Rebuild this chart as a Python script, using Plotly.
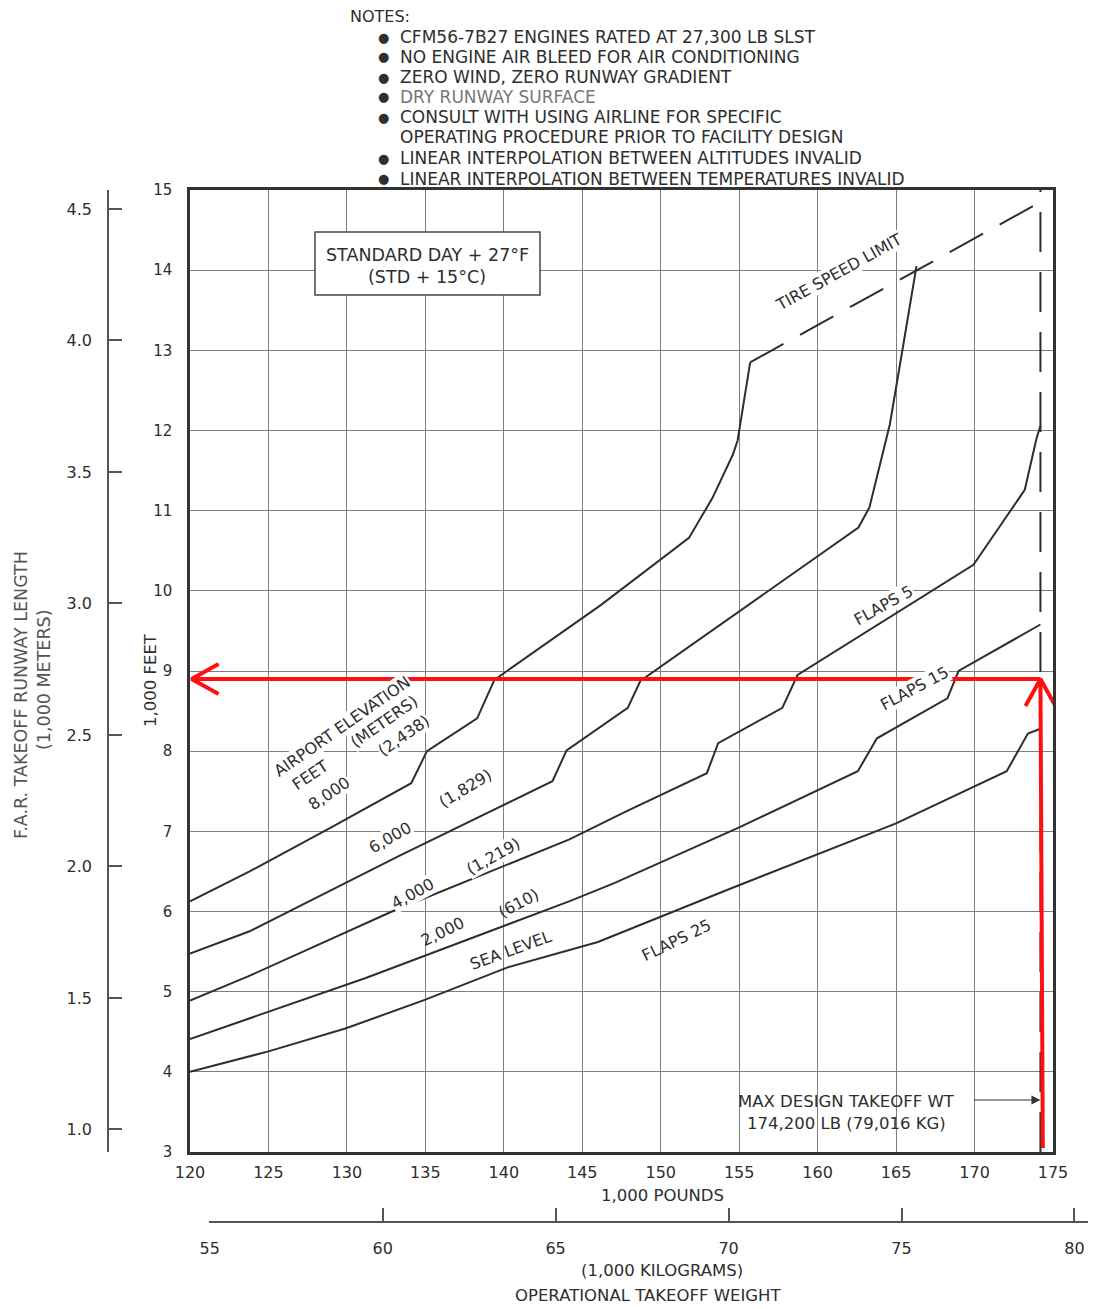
import plotly.graph_objects as go

W, H = 1096, 1309          # browser window
OFF = 8                    # page body margin
FW, FH = W - OFF, H - OFF  # figure size so that the page fits the window
FONT = "DejaVu Sans, Liberation Sans, Arial, sans-serif"
INK = "#2e2e2e"
GRID = "#7e7e7e"

# ---------------- data ----------------
weight_ticks_klb = [120, 125, 130, 135, 140, 145, 150, 155, 160, 165, 170, 175]
length_ticks_kft = [3, 4, 5, 6, 7, 8, 9, 10, 11, 12, 13, 14, 15]
length_ticks_km = [1.0, 1.5, 2.0, 2.5, 3.0, 3.5, 4.0, 4.5]
weight_ticks_t = [55, 60, 65, 70, 75, 80]

sea_level_w = [120, 125.0, 129.9, 135.0, 140.2, 146.0, 154.5, 165.0, 172.05, 172.9, 173.4, 174.2]
sea_level_ft = [4.0, 4.255, 4.54, 4.9, 5.3, 5.62, 6.29, 7.1, 7.75, 8.04, 8.22, 8.28]

elev2000_w = [120, 131.2, 144.2, 147.0, 155.0, 162.56, 163.78, 168.27, 168.98, 174.2]
elev2000_ft = [4.41, 5.17, 6.13, 6.35, 7.05, 7.75, 8.16, 8.66, 9.0, 9.58]

elev4000_w = [120, 123.7, 132.87, 144.18, 147.8, 152.94, 153.66, 157.75, 158.72, 169.93, 171.7, 173.2, 173.95, 174.2]
elev4000_ft = [4.89, 5.19, 6.0, 6.9, 7.25, 7.725, 8.1, 8.54, 8.95, 10.325, 10.83, 11.26, 11.9, 12.06]

elev6000_w = [120, 123.76, 133.3, 143.1, 144.0, 147.9, 148.7, 162.6, 163.3, 164.6, 165.46, 166.3]
elev6000_ft = [5.475, 5.75, 6.69, 7.625, 8.01, 8.54, 8.875, 10.79, 11.04, 12.075, 13.07, 14.05]

elev8000_w = [120, 123.8, 129.0, 134.1, 135.1, 138.3, 139.4, 146.2, 151.8, 153.3, 154.6, 154.9, 155.7]
elev8000_ft = [6.125, 6.5, 7.05, 7.6, 8.0, 8.41, 8.89, 9.825, 10.66, 11.16, 11.7, 11.875, 12.85]

tire_limit_w = [155.7, 174.2]
tire_limit_ft = [12.85, 14.85]

max_tow_klb = 174.2
max_tow_ft = [3, 15]

read_weight_klb = 174.2
read_length_kft = 8.9

LB_PER_KG = 2.2046226
FT_TO_M = 0.3048

# ---------------- geometry helpers (layout only) ----------------
X0, X1 = 190, 1053      # plot left/right pixel (window coords)
Y0, Y1 = 190, 1152      # plot top/bottom pixel (window coords)
XR = (weight_ticks_klb[0], weight_ticks_klb[-1])
YR = (length_ticks_kft[0], length_ticks_kft[-1])


def px(p):
    return (p - OFF) / FW


def py(p):
    return 1 - (p - OFF) / FH


def lb_at(p):
    return XR[0] + (p - X0) * (XR[1] - XR[0]) / (X1 - X0)


kg_dom = (209, 1088)
kg_range = [lb_at(kg_dom[0]) / LB_PER_KG, lb_at(kg_dom[1]) / LB_PER_KG]

fig = go.Figure()

curve_line = dict(color=INK, width=2)
for xs, ys in [(sea_level_w, sea_level_ft), (elev2000_w, elev2000_ft),
               (elev4000_w, elev4000_ft), (elev6000_w, elev6000_ft),
               (elev8000_w, elev8000_ft)]:
    fig.add_trace(go.Scatter(x=xs, y=ys, mode="lines", line=curve_line,
                             hoverinfo="skip", showlegend=False))

fig.add_trace(go.Scatter(x=tire_limit_w, y=tire_limit_ft, mode="lines",
                         line=dict(color=INK, width=2, dash="38px,19px"),
                         hoverinfo="skip", showlegend=False))
fig.add_trace(go.Scatter(x=[max_tow_klb, max_tow_klb], y=max_tow_ft, mode="lines",
                         line=dict(color=INK, width=2, dash="40px,20px"),
                         hoverinfo="skip", showlegend=False))

# red reading arrows
RED = "#ff1010"
red_line = dict(color=RED, width=4)
fig.add_trace(go.Scatter(x=[read_weight_klb + 0.15, read_weight_klb], y=[YR[0] + 0.05, read_length_kft],
                         mode="lines", line=red_line, hoverinfo="skip", showlegend=False))
fig.add_trace(go.Scatter(x=[read_weight_klb, XR[0] + 0.1], y=[read_length_kft, read_length_kft],
                         mode="lines", line=red_line, hoverinfo="skip", showlegend=False))
dxp = (XR[1] - XR[0]) / (X1 - X0)
dyp = (YR[1] - YR[0]) / (Y1 - Y0)
fig.add_trace(go.Scatter(x=[XR[0] + 0.1 + 27 * dxp, XR[0] + 0.1, XR[0] + 0.1 + 27 * dxp],
                         y=[read_length_kft + 15 * dyp, read_length_kft, read_length_kft - 15 * dyp],
                         mode="lines", line=red_line, hoverinfo="skip", showlegend=False))
fig.add_trace(go.Scatter(x=[read_weight_klb - 15 * dxp, read_weight_klb, read_weight_klb + 15 * dxp],
                         y=[read_length_kft - 27 * dyp, read_length_kft, read_length_kft - 27 * dyp],
                         mode="lines", line=red_line, hoverinfo="skip", showlegend=False))

# dummy traces so the secondary axes are drawn
fig.add_trace(go.Scatter(x=[None], y=[None], yaxis="y2", hoverinfo="skip", showlegend=False))
fig.add_trace(go.Scatter(x=[None], y=[None], xaxis="x2", yaxis="y3", hoverinfo="skip", showlegend=False))

tickfont = dict(family=FONT, size=16, color=INK)

fig.update_layout(
    template="none",
    width=FW, height=FH, autosize=False,
    margin=dict(l=0, r=0, t=0, b=0, pad=0),
    paper_bgcolor="white", plot_bgcolor="rgba(0,0,0,0)",
    font=dict(family=FONT, color=INK),
    xaxis=dict(domain=[px(X0), px(X1)], range=list(XR), tickvals=weight_ticks_klb,
               showgrid=True, gridcolor=GRID, gridwidth=1.4, zeroline=False,
               showline=True, mirror=True, linecolor="#333", linewidth=2.5,
               ticks="", tickfont=tickfont, ticklabelstandoff=4, anchor="y",
               automargin=False),
    yaxis=dict(domain=[py(Y1), py(Y0)], range=list(YR), tickvals=length_ticks_kft,
               showgrid=True, gridcolor=GRID, gridwidth=1.4, zeroline=False,
               showline=True, mirror=True, linecolor="#333", linewidth=2.5,
               ticks="", tickfont=dict(family=FONT, size=15, color=INK),
               ticklabelstandoff=12, anchor="x", automargin=False),
    yaxis2=dict(overlaying="y", anchor="free", position=px(108), side="left",
                range=[YR[0] * FT_TO_M, YR[1] * FT_TO_M], tickvals=length_ticks_km,
                ticktext=[f"{v:.1f}" for v in length_ticks_km],
                ticks="inside", ticklen=13, tickwidth=1.5, tickcolor="#555",
                showline=True, linecolor="#555", linewidth=1.5, showgrid=False,
                zeroline=False, tickfont=tickfont, ticklabelstandoff=12,
                automargin=False),
    xaxis2=dict(anchor="free", position=py(1222), domain=[px(kg_dom[0]), px(kg_dom[1])],
                range=kg_range, tickvals=weight_ticks_t, ticks="inside", ticklen=13,
                tickwidth=1.5, tickcolor="#555", showline=True, linecolor="#555",
                linewidth=1.5, showgrid=False, zeroline=False, tickfont=tickfont,
                ticklabelstandoff=12, automargin=False),
    yaxis3=dict(visible=False, domain=[0, 1], range=[0, 1], anchor="x2",
                automargin=False),
)

ann = []


def text(t, x, y, size=16, angle=0, xanchor="center", color=INK, bg=None):
    d = dict(text=t, x=px(x), y=py(y), xref="paper", yref="paper", showarrow=False,
             xanchor=xanchor, yanchor="middle", textangle=angle,
             font=dict(family=FONT, size=size, color=color))
    if bg:
        d.update(bgcolor=bg, borderpad=0)
    ann.append(d)


# notes
text("NOTES:", 348, 17, size=16, xanchor="left")
notes = [
    ("CFM56-7B27 ENGINES RATED AT 27,300 LB SLST", 37, True, INK),
    ("NO ENGINE AIR BLEED FOR AIR CONDITIONING", 57, True, INK),
    ("ZERO WIND, ZERO RUNWAY GRADIENT", 77, True, INK),
    ("DRY RUNWAY SURFACE", 97, True, "#777"),
    ("CONSULT WITH USING AIRLINE FOR SPECIFIC", 117, True, INK),
    ("OPERATING PROCEDURE PRIOR TO FACILITY DESIGN", 137, False, INK),
    ("LINEAR INTERPOLATION BETWEEN ALTITUDES INVALID", 158, True, INK),
    ("LINEAR INTERPOLATION BETWEEN TEMPERATURES INVALID", 179, True, INK),
]
for t, y, bullet, col in notes:
    if bullet:
        text("●", 383, y, size=13)
    text(t, 398, y, size=17, xanchor="left", color=col)

# standard day box
text("STANDARD DAY + 27°F", 427, 255, size=17.5)
text("(STD + 15°C)", 427, 277, size=17.5)

# axis titles
text("1,000 FEET", 150, 680, size=16.5, angle=-90)
text("F.A.R. TAKEOFF RUNWAY LENGTH", 21, 695, size=17.5, angle=-90, color="#555")
text("(1,000 METERS)", 44, 680, size=17.5, angle=-90, color="#555")
text("1,000 POUNDS", 662, 1195, size=16.5)
text("(1,000 KILOGRAMS)", 662, 1270, size=16.5)
text("OPERATIONAL TAKEOFF WEIGHT", 648, 1295, size=16.5)

# curve labels (text, x, y, angle, white background)
curve_labels = [
    ("AIRPORT ELEVATION", 342, 726, -35, True),
    ("FEET", 310, 776, -34, True),
    ("(METERS)", 384, 721, -35, True),
    ("8,000", 329, 793, -34, True),
    ("(2,438)", 404, 736, -35, True),
    ("6,000", 390, 837, -30, True),
    ("(1,829)", 465, 788, -31, True),
    ("4,000", 413, 894, -29, True),
    ("(1,219)", 493, 856, -29, True),
    ("2,000", 443, 932, -26, False),
    ("(610)", 518, 903, -28, False),
    ("SEA LEVEL", 510, 950, -20, False),
    ("FLAPS 25", 676, 940, -26, False),
    ("FLAPS 5", 883, 605, -29, True),
    ("FLAPS 15", 914, 688, -28, True),
    ("TIRE SPEED LIMIT", 838, 272, -29, True),
]
for t, x, y, a, bg in curve_labels:
    text(t, x, y, size=16, angle=a, bg="white" if bg else None)

# max design takeoff weight
text("MAX DESIGN TAKEOFF WT", 846, 1101, size=16.5)
text("174,200 LB (79,016 KG)", 846, 1123, size=16.5)
ann.append(dict(text="", x=max_tow_klb, xref="x", y=py(1100), yref="paper",
                showarrow=True, ax=-68, ay=0, arrowhead=2, arrowsize=1.5,
                arrowwidth=1.2, arrowcolor="#333", standoff=0))

fig.update_layout(annotations=ann)
fig.add_shape(type="rect", xref="paper", yref="paper", x0=px(315), x1=px(540),
              y0=py(295), y1=py(232), line=dict(color="#444", width=1.5),
              fillcolor="white", layer="above")

fig.write_html("out.html")
